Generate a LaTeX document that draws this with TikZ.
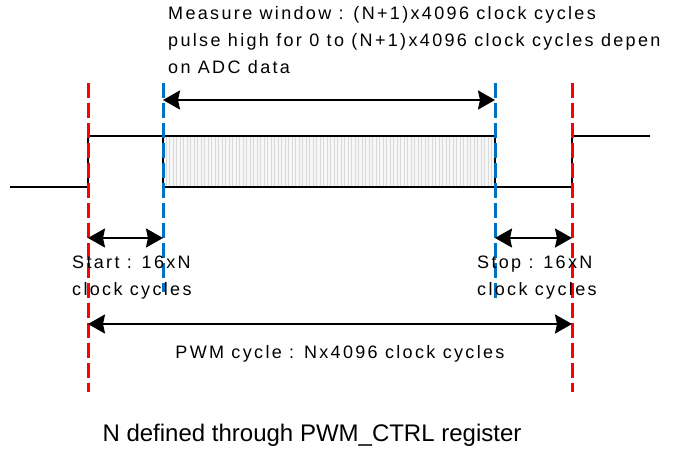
\documentclass[tikz,border=0pt]{standalone}
\usepackage{fontspec}
\setmainfont{Liberation Sans}
\newfontfamily\spacedfont[LetterSpace=13]{Liberation Sans}
\usetikzlibrary{arrows.meta}
\definecolor{edgered}{RGB}{255,0,0}
\definecolor{edgeblue}{RGB}{0,112,192}

\begin{document}
\begin{tikzpicture}[x=1pt,y=-1pt,
    redmark/.style={edgered,line width=3pt,dash pattern=on 15pt off 5pt},
    bluemark/.style={edgeblue,line width=3pt,dash pattern=on 15pt off 5pt},
    wave/.style={line width=2.2pt,line join=miter},
    span/.style={line width=2.2pt,{Stealth[length=17pt,width=19pt,inset=2pt]}-{Stealth[length=17pt,width=19pt,inset=2pt]}},
    lbl/.style={font=\spacedfont\fontsize{18}{27}\selectfont,inner sep=0pt,align=left}]
\useasboundingbox (0,0) rectangle (684,448);

% cycle edges (red) and measure window edges (blue)
\coordinate (r1t) at (88,83);  \coordinate (r1b) at (88,392);
\coordinate (r2t) at (572,83); \coordinate (r2b) at (572,392);
\coordinate (b1t) at (163,83); \coordinate (b1b) at (163,292);
\coordinate (b2t) at (495,83); \coordinate (b2b) at (495,300);

% pulse
\fill[gray!6] (163,136) rectangle (495,187);
\foreach \x in {166,169.5,...,493}
  \draw[gray!30,line width=1pt] (\x,137) -- (\x,186);
\draw[wave] (10,187) -- (88,187) -- (88,136) -- (495,136) -- (495,187)
  -- (572,187) -- (572,136) -- (650,136);
\draw[wave] (163,136) -- (163,187) -- (495,187);

\draw[redmark] (r1t) -- (r1b);
\draw[redmark] (r2t) -- (r2b);
\draw[bluemark] (b1t) -- (b1b);
\draw[bluemark] (b2t) -- (b2b);

% spans
\draw[span] (b1t |- 0,100) -- (b2t |- 0,100);
\draw[span] (r1t |- 0,238) -- (b1t |- 0,238);
\draw[span] (b2t |- 0,238) -- (r2t |- 0,238);
\draw[span] (r1t |- 0,324) -- (r2t |- 0,324);

% labels
\node[lbl,anchor=north west] (measure) at (168,6)
  {Measure window : (N+1)x4096 clock cycles\\pulse high for 0 to (N+1)x4096 clock cycles depen\\on ADC data};
\node[lbl,anchor=north west] (start) at (72,256) {Start : 16xN\\clock cycles};
\node[lbl,anchor=north west] (stop) at (477,256) {Stop : 16xN\\clock cycles};
\node[lbl,anchor=base] (pwm) at (340,358) {PWM cycle : Nx4096 clock cycles};
\node[font=\fontsize{24}{28}\selectfont,inner sep=0pt,anchor=base] (note) at (312,441)
  {N defined through PWM\_CTRL register};
\end{tikzpicture}
\end{document}
